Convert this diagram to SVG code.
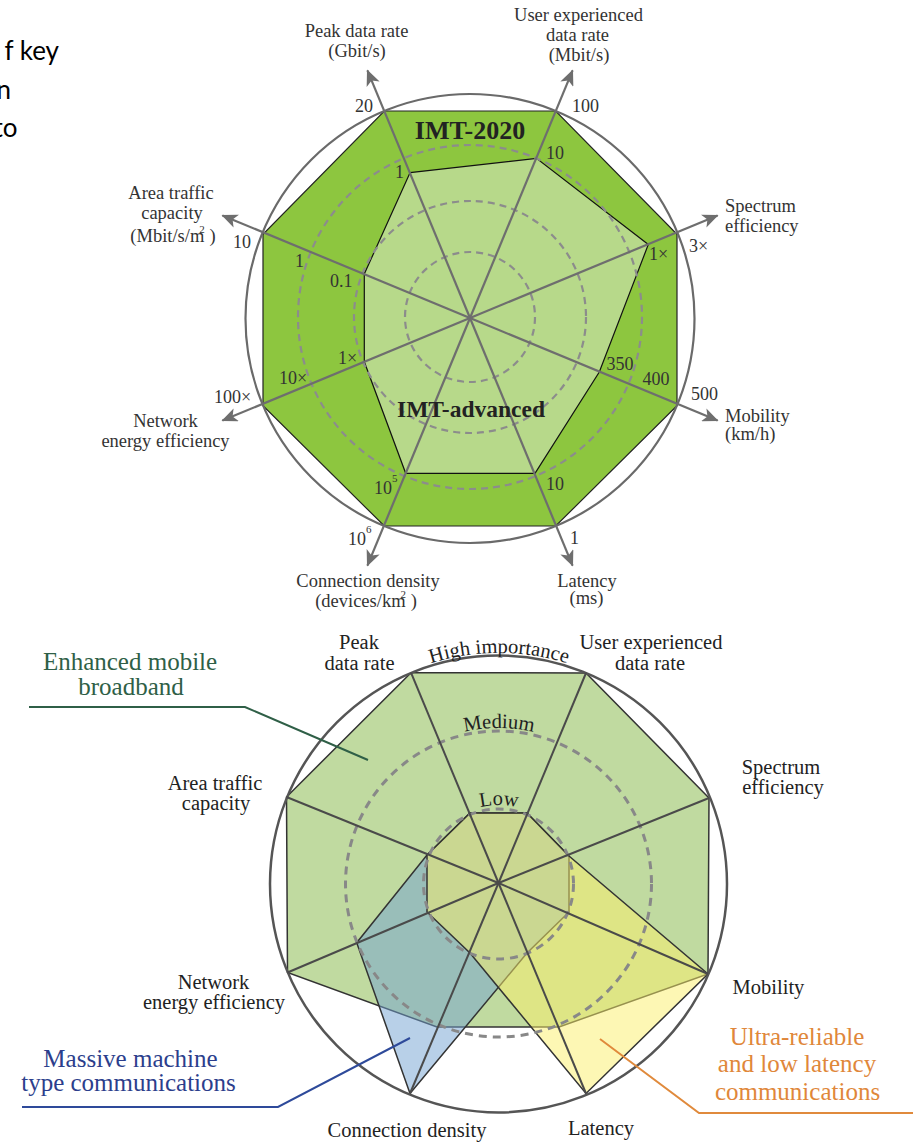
<svg xmlns="http://www.w3.org/2000/svg" width="922" height="1142" viewBox="0 0 922 1142">
<defs>
<style>
.t1{font-family:"Liberation Serif","Times New Roman",serif;font-size:18.5px;fill:#333;}
.tick{font-family:"Liberation Serif","Times New Roman",serif;font-size:18px;fill:#333;}
.t2{font-family:"Liberation Serif","Times New Roman",serif;font-size:20.5px;fill:#222;}
.big{font-family:"Liberation Serif","Times New Roman",serif;font-size:25px;}
.bold{font-family:"Liberation Serif","Times New Roman",serif;font-weight:bold;fill:#222;text-anchor:middle;}
.mid{text-anchor:middle;}
.frag{font-family:Lato,"Liberation Sans",sans-serif;font-size:26px;fill:#000;text-anchor:end;}
.dash1{fill:none;stroke:#8c8c8c;stroke-width:2.2;stroke-dasharray:7 5;}
.dash2{fill:none;stroke:#888;stroke-width:3;stroke-dasharray:8 6;}
.axis{stroke:#6e6e6e;stroke-width:2.2;fill:none;}
.spoke{stroke:#4a4a4a;stroke-width:2;fill:none;}
.poly{stroke:#333;stroke-width:1.5;stroke-linejoin:miter;}
</style>
<marker id="arr" viewBox="0 0 16 14" refX="15" refY="7" markerWidth="16" markerHeight="14" markerUnits="userSpaceOnUse" orient="auto"><path d="M0,0 L16,7 L0,14 L4,7 Z" fill="#6e6e6e"/></marker>
<path id="arcHigh" d="M268,884 A231,231 0 0 1 730,884"/>
<path id="arcMed" d="M343,884 A156,156 0 0 1 655,884"/>
<path id="arcLow" d="M420,884 A79,79 0 0 1 578,884"/>
</defs>
<rect width="922" height="1142" fill="#fff"/>

<g id="fragment-text">
<text class="frag" x="59" y="60">f key</text>
<text class="frag" x="11" y="99">n</text>
<text class="frag" x="17.5" y="137">to</text>
</g>

<!-- ===== TOP CHART ===== -->
<g id="top-chart">
<g id="imt2020-area">
<polygon points="384.3,111 555.7,111 677,234.3 677,405.7 555.7,526 384.3,526 263,405.7 263,234.3" fill="#8dc63f" stroke="#222" stroke-width="1.2"/>
</g>
<g id="imtadv-area">
<polygon points="410,172.7 536.5,158.3 648.3,244.5 599.3,372 535,473.3 405.7,473.3 364.3,361.8 364.3,274" fill="#b7d98a" stroke="#111" stroke-width="1.2"/>
</g>
<g id="top-rings">
<circle cx="470" cy="317" r="65" class="dash1"/>
<circle cx="470" cy="317" r="116" class="dash1"/>
<circle cx="470" cy="317" r="172" class="dash1"/>
<circle cx="470" cy="318.5" r="224.5" fill="none" stroke="#6a6a6a" stroke-width="2.2"/>
</g>
<g id="top-axes">
<line class="axis" x1="470" y1="318" x2="367.4" y2="70.4" marker-end="url(#arr)"/>
<line class="axis" x1="470" y1="318" x2="572.6" y2="70.4" marker-end="url(#arr)"/>
<line class="axis" x1="470" y1="318" x2="717.6" y2="215.4" marker-end="url(#arr)"/>
<line class="axis" x1="470" y1="318" x2="717.6" y2="420.6" marker-end="url(#arr)"/>
<line class="axis" x1="470" y1="318" x2="572.6" y2="565.6" marker-end="url(#arr)"/>
<line class="axis" x1="470" y1="318" x2="367.4" y2="565.6" marker-end="url(#arr)"/>
<line class="axis" x1="470" y1="318" x2="222.4" y2="420.6" marker-end="url(#arr)"/>
<line class="axis" x1="470" y1="318" x2="222.4" y2="215.4" marker-end="url(#arr)"/>
</g>
<g id="top-titles">
<text class="bold" x="470" y="138.5" font-size="26">IMT-2020</text>
<text class="bold" x="471" y="416.5" font-size="23.5">IMT-advanced</text>
</g>
<g id="top-axis-labels">
<g id="lbl-peak"><text class="t1 mid" x="356.5" y="36.5">Peak data rate</text><text class="t1 mid" x="357" y="56.5">(Gbit/s)</text></g>
<g id="lbl-user"><text class="t1 mid" x="578.5" y="20.5">User experienced</text><text class="t1 mid" x="577.5" y="40.5">data rate</text><text class="t1 mid" x="579" y="60.5">(Mbit/s)</text></g>
<g id="lbl-spectrum"><text class="t1" x="725" y="211.5">Spectrum</text><text class="t1" x="725" y="231.5">efficiency</text></g>
<g id="lbl-mobility"><text class="t1" x="725" y="421.5">Mobility</text><text class="t1" x="725" y="440">(km/h)</text></g>
<g id="lbl-latency"><text class="t1 mid" x="587" y="586.5">Latency</text><text class="t1 mid" x="586.5" y="603.5">(ms)</text></g>
<g id="lbl-connection"><text class="t1 mid" x="368" y="587">Connection density</text><text class="t1 mid" x="366" y="607">(devices/km<tspan font-size="11" dx="-5" dy="-9">2</tspan><tspan dy="9"> )</tspan></text></g>
<g id="lbl-network"><text class="t1 mid" x="165.5" y="427">Network</text><text class="t1 mid" x="165.5" y="446.5">energy efficiency</text></g>
<g id="lbl-area"><text class="t1 mid" x="171" y="199">Area traffic</text><text class="t1 mid" x="172" y="219">capacity</text><text class="t1 mid" x="173" y="241.5">(Mbit/s/m<tspan font-size="11" dx="-5" dy="-9">2</tspan><tspan dy="9"> )</tspan></text></g>
</g>
<g id="top-ticks">
<text class="tick" x="355" y="112">20</text>
<text class="tick" x="395" y="178">1</text>
<text class="tick" x="572" y="111.5">100</text>
<text class="tick" x="546" y="158.5">10</text>
<text class="tick" x="689" y="251.5">3×</text>
<text class="tick" x="649" y="260">1×</text>
<text class="tick" x="606.5" y="370">350</text>
<text class="tick" x="642.5" y="384.5">400</text>
<text class="tick" x="691" y="400">500</text>
<text class="tick" x="546" y="489.5">10</text>
<text class="tick" x="570" y="543.5">1</text>
<text class="tick" x="374" y="494">10<tspan font-size="11" dy="-12">5</tspan></text>
<text class="tick" x="348" y="545">10<tspan font-size="11" dy="-12">6</tspan></text>
<text class="tick" x="338" y="364">1×</text>
<text class="tick" x="279" y="384">10×</text>
<text class="tick" x="214" y="403">100×</text>
<text class="tick" x="233" y="248">10</text>
<text class="tick" x="295" y="267">1</text>
<text class="tick" x="330" y="287">0.1</text>
</g>
</g>

<!-- ===== BOTTOM CHART ===== -->
<g id="bottom-chart">
<g id="embb-area">
<polygon class="poly" points="411,672.7 586,673 709,798 708,974 559,1027 437,1027 287.5,972.5 286.5,797" fill="#c0daa0"/>
</g>
<g id="mmtc-area">
<polygon class="poly" points="470,813 527,813 569,856 569,912 527,953 410,1093.5 356.7,942.7 427,855" fill="rgb(113,161,209)" fill-opacity="0.5"/>
</g>
<g id="urllc-area">
<polygon class="poly" points="470,813 527,813 569,856 708,974 586,1093.5 470,953 427,912 427,855" fill="rgb(251,239,105)" fill-opacity="0.5"/>
</g>
<g id="bottom-rings">
<circle cx="498.5" cy="884" r="75" class="dash2"/>
<circle cx="498.5" cy="884" r="153" class="dash2"/>
<circle cx="498.5" cy="884" r="228.5" fill="none" stroke="#555" stroke-width="2.5"/>
</g>
<g id="bottom-spokes">
<line class="spoke" x1="498.5" y1="883" x2="411" y2="672.7"/>
<line class="spoke" x1="498.5" y1="883" x2="586" y2="673"/>
<line class="spoke" x1="498.5" y1="883" x2="709" y2="798"/>
<line class="spoke" x1="498.5" y1="883" x2="708" y2="974"/>
<line class="spoke" x1="498.5" y1="883" x2="586" y2="1093.5"/>
<line class="spoke" x1="498.5" y1="883" x2="410" y2="1093.5"/>
<line class="spoke" x1="498.5" y1="883" x2="287.5" y2="972.5"/>
<line class="spoke" x1="498.5" y1="883" x2="286.5" y2="797"/>
</g>
<g id="importance-labels">
<text class="t2" font-size="21"><textPath href="#arcHigh" startOffset="50%" text-anchor="middle">High importance</textPath></text>
<text class="t2" font-size="21.5"><textPath href="#arcMed" startOffset="50%" text-anchor="middle">Medium</textPath></text>
<text class="t2" font-size="21.5"><textPath href="#arcLow" startOffset="50%" text-anchor="middle">Low</textPath></text>
</g>
<g id="bottom-axis-labels">
<g id="b-peak"><text class="t2 mid" x="359" y="649">Peak</text><text class="t2 mid" x="359.5" y="670">data rate</text></g>
<g id="b-user"><text class="t2 mid" x="651" y="648.5">User experienced</text><text class="t2 mid" x="650" y="669.5">data rate</text></g>
<g id="b-spectrum"><text class="t2 mid" x="781" y="773.5">Spectrum</text><text class="t2 mid" x="783" y="794">efficiency</text></g>
<g id="b-mobility"><text class="t2 mid" x="768.5" y="993.5">Mobility</text></g>
<g id="b-latency"><text class="t2 mid" x="601" y="1135">Latency</text></g>
<g id="b-connection"><text class="t2 mid" x="407" y="1136.5">Connection density</text></g>
<g id="b-network"><text class="t2 mid" x="213.5" y="988.5">Network</text><text class="t2 mid" x="214" y="1008.5">energy efficiency</text></g>
<g id="b-area"><text class="t2 mid" x="215" y="790">Area traffic</text><text class="t2 mid" x="216" y="810">capacity</text></g>
</g>
<g id="connectors">
<polyline points="29,707 245,707 368,760" fill="none" stroke="#2f5f47" stroke-width="2"/>
<polyline points="22,1107 278,1107 410,1038" fill="none" stroke="#2e4a9a" stroke-width="2"/>
<polyline points="600,1039 699,1113 913,1113" fill="none" stroke="#e08a3c" stroke-width="2"/>
</g>
<g id="usage-embb"><text class="big mid" x="130" y="670" fill="#2f5f47">Enhanced mobile</text><text class="big mid" x="131" y="695" fill="#2f5f47">broadband</text></g>
<g id="usage-mmtc"><text class="big mid" x="130.5" y="1066.5" fill="#2c3e8c">Massive machine</text><text class="big mid" x="128.5" y="1091" fill="#2c3e8c">type communications</text></g>
<g id="usage-urllc"><text class="big mid" x="797" y="1045" fill="#e0873a">Ultra-reliable</text><text class="big mid" x="797" y="1071.5" fill="#e0873a">and low latency</text><text class="big mid" x="797.5" y="1100" fill="#e0873a">communications</text></g>
</g>
</svg>
